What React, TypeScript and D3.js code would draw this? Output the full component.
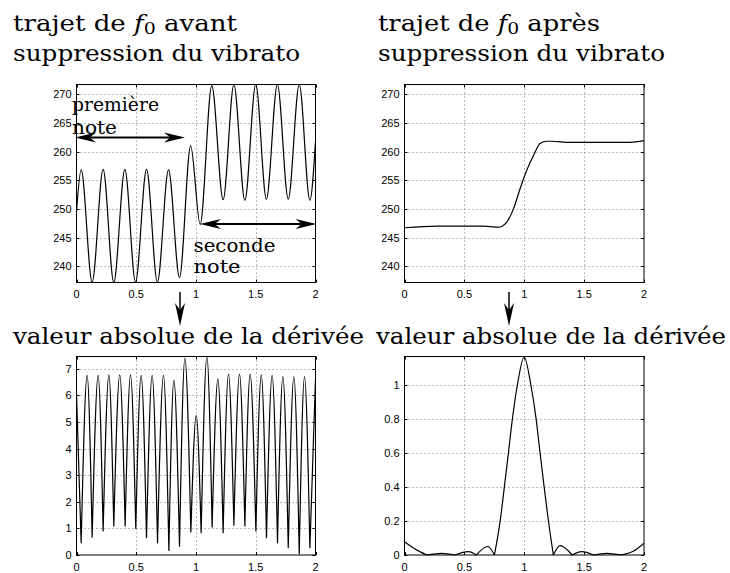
import React, { useEffect, useRef } from 'react';
import * as d3 from 'd3';

// time axis (s), shared by the four panels
const timeTicks = [0, 0.5, 1, 1.5, 2];

// f0 trajectory before vibrato removal (extrema)
const beforeX = [0, 0.039, 0.131, 0.223, 0.312, 0.405, 0.494, 0.586, 0.677, 0.770, 0.862, 0.955, 1.035, 1.132, 1.227, 1.317, 1.409, 1.500, 1.589, 1.681, 1.772, 1.864, 1.953, 2.0];
const beforeY = [249.5, 256.8, 237.2, 256.9, 237.2, 256.9, 237.2, 256.9, 237.2, 256.8, 238.0, 261.0, 247.3, 271.5, 251.6, 271.7, 251.5, 271.7, 251.7, 271.7, 251.7, 271.7, 251.5, 261.8];

// f0 trajectory after vibrato removal
const afterX = [0, 0.27, 0.49, 0.66, 0.784, 0.854, 0.91, 0.965, 1.02, 1.077, 1.132, 1.188, 1.23, 1.38, 1.66, 1.883, 2.0];
const afterY = [246.7, 247.0, 247.0, 247.0, 246.8, 247.7, 250.0, 253.5, 256.7, 259.3, 261.4, 261.8, 261.8, 261.6, 261.6, 261.6, 261.9];

// |derivative| of the raw trajectory (peaks and cusps)
const derivBeforeX = [0, 0.039, 0.089, 0.131, 0.181, 0.223, 0.271, 0.312, 0.362, 0.407, 0.452, 0.496, 0.541, 0.586, 0.633, 0.678, 0.728, 0.773, 0.815, 0.862, 0.907, 0.957, 1.002, 1.043, 1.091, 1.135, 1.183, 1.227, 1.272, 1.317, 1.364, 1.409, 1.453, 1.501, 1.546, 1.590, 1.637, 1.682, 1.727, 1.772, 1.819, 1.864, 1.908, 1.953, 2.0];
const derivBeforeY = [6.05, 0.44, 6.75, 0.65, 6.75, 0.88, 6.77, 1.07, 6.77, 1.07, 6.77, 0.98, 6.75, 0.63, 6.75, 0.44, 6.75, 0.15, 6.57, 0.31, 7.4, 0.85, 5.24, 0.82, 7.46, 1.03, 6.62, 0.82, 6.8, 1.1, 6.8, 1.07, 6.8, 0.88, 6.77, 0.63, 6.75, 0.44, 6.7, 0.25, 6.7, 0.03, 6.7, 0.25, 6.62];

// |derivative| of the smoothed trajectory
const derivAfterX = [0, 0.1, 0.186, 0.31, 0.42, 0.534, 0.60, 0.695, 0.751, 0.799, 0.834, 0.868, 0.901, 0.943, 0.999, 1.055, 1.099, 1.132, 1.166, 1.202, 1.243, 1.30, 1.40, 1.48, 1.58, 1.69, 1.81, 1.91, 2.0];
const derivAfterY = [0.078, 0.03, 0, 0.01, 0, 0.02, 0, 0.05, 0, 0.2, 0.4, 0.6, 0.8, 1.0, 1.163, 1.0, 0.8, 0.6, 0.4, 0.2, 0, 0.055, 0, 0.02, 0, 0.01, 0, 0.022, 0.07];

const f0Ticks = [240, 245, 250, 255, 260, 265, 270];
const derivBeforeTicks = [0, 1, 2, 3, 4, 5, 6, 7];
const derivAfterTicks = [0, 0.2, 0.4, 0.6, 0.8, 1];

const f0Range: [number, number] = [237.15, 271.7];
const derivBeforeRange: [number, number] = [0, 7.46];
const derivAfterRange: [number, number] = [0, 1.166];

const SERIF = "'DejaVu Serif', serif";
const SANS = 'Liberation Sans';

type Panel = {
  id: string;
  left: number; top: number; width: number; height: number;
  xs: number[]; ys: number[];
  yDomain: [number, number];
  yTicks: number[];
  cusps: boolean;
};

// cut a series into arches at its local minima, so each minimum stays a cusp
const splitAtMinima = (xs: number[], ys: number[]) => {
  const parts: [number, number][][] = [];
  let cur: [number, number][] = [[xs[0], ys[0]]];
  for (let i = 1; i < xs.length; i++) {
    cur.push([xs[i], ys[i]]);
    if (i < xs.length - 1 && ys[i] < ys[i - 1] && ys[i] < ys[i + 1]) {
      parts.push(cur);
      cur = [[xs[i], ys[i]]];
    }
  }
  parts.push(cur);
  return parts;
};

const App: React.FC = () => {
  const svgRef = useRef<SVGSVGElement>(null);

  useEffect(() => {
    if (!svgRef.current) return;
    const svg = d3.select(svgRef.current);
    svg.selectAll('*').remove();

    const panels: Panel[] = [
      { id: 'a', left: 76.5, top: 84.5, width: 239, height: 198, xs: beforeX, ys: beforeY, yDomain: f0Range, yTicks: f0Ticks, cusps: false },
      { id: 'b', left: 404.5, top: 84.5, width: 239.5, height: 198, xs: afterX, ys: afterY, yDomain: f0Range, yTicks: f0Ticks, cusps: false },
      { id: 'c', left: 76.5, top: 356.5, width: 239, height: 198.5, xs: derivBeforeX, ys: derivBeforeY, yDomain: derivBeforeRange, yTicks: derivBeforeTicks, cusps: true },
      { id: 'd', left: 404.5, top: 356.5, width: 239.5, height: 198.5, xs: derivAfterX, ys: derivAfterY, yDomain: derivAfterRange, yTicks: derivAfterTicks, cusps: true },
    ];

    const defs = svg.append('defs');

    panels.forEach(p => {
      const x = d3.scaleLinear().domain([0, 2]).range([p.left, p.left + p.width]);
      const y = d3.scaleLinear().domain(p.yDomain).range([p.top + p.height, p.top]);
      const g = svg.append('g');

      defs.append('clipPath').attr('id', `clip-${p.id}`)
        .append('rect')
        .attr('x', p.left).attr('y', p.top - 1)
        .attr('width', p.width).attr('height', p.height + 2);

      // dotted grid
      g.selectAll('line.gx')
        .data(timeTicks.filter(t => t > 0 && t < 2))
        .enter().append('line')
        .attr('x1', d => Math.round(x(d)) + 0.5).attr('x2', d => Math.round(x(d)) + 0.5)
        .attr('y1', p.top).attr('y2', p.top + p.height)
        .attr('stroke', '#777').attr('stroke-width', 1).attr('stroke-dasharray', '1 3');
      g.selectAll('line.gy')
        .data(p.yTicks.filter(t => y(t) < p.top + p.height - 1 && y(t) > p.top + 1))
        .enter().append('line')
        .attr('x1', p.left).attr('x2', p.left + p.width)
        .attr('y1', d => Math.round(y(d)) + 0.5).attr('y2', d => Math.round(y(d)) + 0.5)
        .attr('stroke', '#777').attr('stroke-width', 1).attr('stroke-dasharray', '1 3');

      // inward ticks on all four sides
      const tl = 3;
      timeTicks.forEach(t => {
        const xx = Math.round(x(t)) + 0.5;
        g.append('line').attr('x1', xx).attr('x2', xx).attr('y1', p.top + p.height).attr('y2', p.top + p.height - tl).attr('stroke', '#000');
        g.append('line').attr('x1', xx).attr('x2', xx).attr('y1', p.top).attr('y2', p.top + tl).attr('stroke', '#000');
      });
      p.yTicks.forEach(t => {
        const yy = Math.round(y(t)) + 0.5;
        g.append('line').attr('x1', p.left).attr('x2', p.left + tl).attr('y1', yy).attr('y2', yy).attr('stroke', '#000');
        g.append('line').attr('x1', p.left + p.width).attr('x2', p.left + p.width - tl).attr('y1', yy).attr('y2', yy).attr('stroke', '#000');
      });

      // the curve
      const line = d3.line<[number, number]>()
        .x(d => x(d[0])).y(d => y(d[1]))
        .curve(d3.curveMonotoneX);
      const pts: [number, number][] = p.xs.map((v, i) => [v, p.ys[i]]);
      const dPath = p.cusps
        ? splitAtMinima(p.xs, p.ys).map(part => line(part)).join('')
        : line(pts);
      g.append('path')
        .attr('d', dPath || '')
        .attr('fill', 'none')
        .attr('stroke', '#000')
        .attr('stroke-width', 1.2)
        .attr('stroke-linejoin', 'round')
        .attr('clip-path', `url(#clip-${p.id})`);

      // frame
      g.append('rect')
        .attr('x', p.left).attr('y', p.top)
        .attr('width', p.width).attr('height', p.height)
        .attr('fill', 'none').attr('stroke', '#000').attr('stroke-width', 1);

      // tick labels
      g.selectAll('text.xl')
        .data(timeTicks)
        .enter().append('text')
        .attr('x', d => x(d)).attr('y', p.top + p.height + 15.5)
        .attr('text-anchor', 'middle')
        .attr('font-family', SANS).attr('font-size', 11)
        .text(d => String(d));
      g.selectAll('text.yl')
        .data(p.yTicks)
        .enter().append('text')
        .attr('x', p.left - 5).attr('y', d => y(d) + 4)
        .attr('text-anchor', 'end')
        .attr('font-family', SANS).attr('font-size', 11)
        .text(d => String(d));
    });

    // titles
    type TextSel = d3.Selection<SVGTextElement, unknown, null, undefined>;
    const title = (x0: number, y0: number, len: number, parts: (sel: TextSel) => void) => {
      const t = svg.append('text')
        .attr('x', x0).attr('y', y0)
        .attr('font-family', SERIF).attr('font-size', 22)
        .attr('textLength', len).attr('lengthAdjust', 'spacingAndGlyphs');
      parts(t);
    };
    const f0Line = (word: string) => (t: TextSel) => {
      t.append('tspan').text('trajet de ');
      t.append('tspan').attr('font-style', 'italic').text('f');
      t.append('tspan').attr('font-size', 16).attr('dy', 3).text('0');
      t.append('tspan').attr('dy', -3).text(` ${word}`);
    };
    const plain = (s: string) => (t: TextSel) => { t.text(s); };

    title(13, 31, 224, f0Line('avant'));
    title(13, 61, 287, plain('suppression du vibrato'));
    title(378, 31, 222, f0Line('après'));
    title(378, 61, 287, plain('suppression du vibrato'));
    title(13, 344, 351, plain('valeur absolue de la dérivée'));
    title(376, 344, 350, plain('valeur absolue de la dérivée'));

    // annotations in the first panel
    const note = (x0: number, y0: number, len: number, s: string) => {
      svg.append('text')
        .attr('x', x0).attr('y', y0)
        .attr('font-family', SERIF).attr('font-size', 18)
        .attr('textLength', len).attr('lengthAdjust', 'spacingAndGlyphs')
        .text(s);
    };
    note(72, 110.5, 87, 'première');
    note(72, 134, 45, 'note');
    note(193.5, 251.5, 82, 'seconde');
    note(193.5, 273, 47, 'note');

    const head = (tx: number, ty: number, dx: number, dy: number, len: number, half: number) => {
      // arrowhead pointing along (dx, dy) with tip at (tx, ty)
      const bx = tx - dx * len, by = ty - dy * len;
      const nx = tx - dx * len * 0.7, ny = ty - dy * len * 0.7;
      const px = -dy * half, py = dx * half;
      return `M${tx},${ty}L${bx + px},${by + py}L${nx},${ny}L${bx - px},${by - py}Z`;
    };
    const doubleArrow = (x1: number, x2: number, yy: number) => {
      svg.append('line')
        .attr('x1', x1 + 12).attr('x2', x2 - 12).attr('y1', yy).attr('y2', yy)
        .attr('stroke', '#000').attr('stroke-width', 1.8);
      svg.append('path').attr('d', head(x1, yy, -1, 0, 21, 5)).attr('fill', '#000');
      svg.append('path').attr('d', head(x2, yy, 1, 0, 21, 5)).attr('fill', '#000');
    };
    doubleArrow(75, 185, 137.5);
    doubleArrow(200, 316.5, 224);

    const downArrow = (xx: number) => {
      svg.append('line')
        .attr('x1', xx).attr('x2', xx).attr('y1', 292).attr('y2', 312)
        .attr('stroke', '#000').attr('stroke-width', 1.5);
      svg.append('path').attr('d', head(xx, 326, 0, 1, 23, 5)).attr('fill', '#000');
    };
    downArrow(180);
    downArrow(509);
  }, []);

  return (
    <svg
      ref={svgRef}
      width={730}
      height={573}
      style={{ position: 'absolute', left: 0, top: 0, background: '#fff' }}
    />
  );
};

export default App;
